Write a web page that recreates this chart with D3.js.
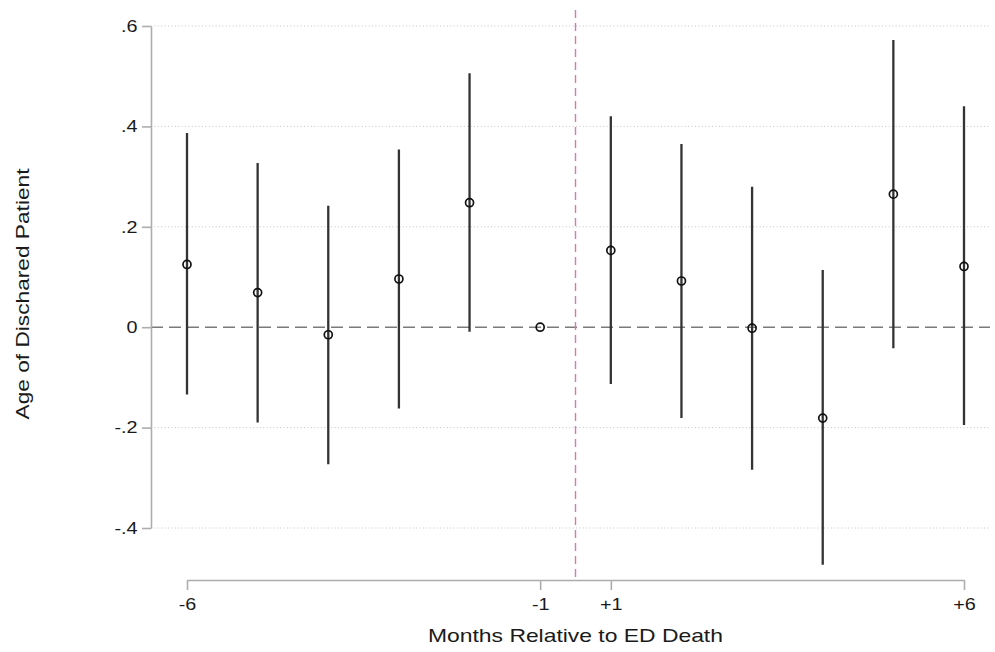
<!DOCTYPE html>
<html>
<head>
<meta charset="utf-8">
<script src="https://cdn.jsdelivr.net/npm/d3@7"></script>
<style>
  html, body { margin: 0; padding: 0; background: #fff; }
  svg { display: block; font-family: "Liberation Sans", Arial, Helvetica, sans-serif; }
</style>
</head>
<body>
<svg id="chart" width="995" height="652"></svg>
<script>
// Event-study estimates: months relative to the ED death (month 0 omitted, -1 is the reference)
const months = ["-6", "-5", "-4", "-3", "-2", "-1", "+1", "+2", "+3", "+4", "+5", "+6"];
const estimate = [0.125, 0.069, -0.015, 0.096, 0.248, 0, 0.153, 0.092, -0.002, -0.181, 0.265, 0.121];
const ciLow  = [-0.134, -0.190, -0.273, -0.162, -0.009, null, -0.113, -0.181, -0.284, -0.473, -0.042, -0.195];
const ciHigh = [0.387, 0.327, 0.242, 0.354, 0.506, null, 0.420, 0.365, 0.280, 0.114, 0.572, 0.440];

const xTickValues = ["-6", "-1", "+1", "+6"];
const yTickValues = [-0.4, -0.2, 0, 0.2, 0.4, 0.6];
const yTickLabels = ["-.4", "-.2", "0", ".2", ".4", ".6"];
const gridValues = [-0.4, -0.2, 0.2, 0.4, 0.6];

const xTitle = "Months Relative to ED Death";
const yTitle = "Age of Dischared Patient";

const rows = months.map((m, i) => ({ month: m, est: estimate[i], lo: ciLow[i], hi: ciHigh[i] }));

const svg = d3.select("#chart");
const plotLeft = 151, plotRight = 990, plotTop = 10, axisY = 580;

const x = d3.scalePoint().domain(months).range([187, 964]).padding(0);
const y = d3.scaleLinear().domain([-0.4, 0.6]).range([528, 26]);

// stretch text along its own direction (the lettering is set wide)
function widen(sel, k) {
  sel.each(function () {
    const w = this.getComputedTextLength();
    d3.select(this).attr("textLength", w * k).attr("lengthAdjust", "spacingAndGlyphs");
  });
}

// dotted horizontal grid
svg.append("g")
  .selectAll("line")
  .data(gridValues)
  .join("line")
  .attr("x1", plotLeft).attr("x2", plotRight)
  .attr("y1", d => y(d)).attr("y2", d => y(d))
  .attr("stroke", "#c4c4c4")
  .attr("stroke-width", 1)
  .attr("stroke-dasharray", "1,2.4");

// dashed zero reference line
svg.append("line")
  .attr("x1", plotLeft).attr("x2", plotRight)
  .attr("y1", y(0)).attr("y2", y(0))
  .attr("stroke", "#7a7a7a")
  .attr("stroke-width", 1.4)
  .attr("stroke-dasharray", "12,6");

// event marker between -1 and +1
const eventX = (x("-1") + x("+1")) / 2;
svg.append("line")
  .attr("x1", eventX).attr("x2", eventX)
  .attr("y1", plotTop).attr("y2", axisY)
  .attr("stroke", "#d47ab2")
  .attr("stroke-width", 1.4)
  .attr("stroke-dasharray", "8,5");

// y axis
const yAxis = svg.append("g")
  .attr("transform", `translate(${plotLeft},0)`)
  .call(d3.axisLeft(y)
    .tickValues(yTickValues)
    .tickFormat((d, i) => yTickLabels[i])
    .tickSize(9)
    .tickSizeOuter(0)
    .tickPadding(4.5));
yAxis.select(".domain").attr("stroke", "#adadad").attr("stroke-width", 1.6);
yAxis.selectAll(".tick line").attr("stroke", "#adadad").attr("stroke-width", 1.6);
yAxis.selectAll(".tick text")
  .attr("fill", "#1a1a1a")
  .style("font-size", "16.5px")
  .style("font-family", "'Liberation Sans', Arial, sans-serif");
widen(yAxis.selectAll(".tick text"), 1.2);

// x axis
const xAxis = svg.append("g")
  .attr("transform", `translate(0,${axisY})`)
  .call(d3.axisBottom(x)
    .tickValues(xTickValues)
    .tickSize(10)
    .tickSizeOuter(0)
    .tickPadding(8));
xAxis.select(".domain").attr("stroke", "#adadad").attr("stroke-width", 1.6);
xAxis.selectAll(".tick line").attr("stroke", "#adadad").attr("stroke-width", 1.6);
xAxis.selectAll(".tick text")
  .attr("fill", "#1a1a1a")
  .style("font-size", "16.5px")
  .style("font-family", "'Liberation Sans', Arial, sans-serif");
widen(xAxis.selectAll(".tick text"), 1.2);

// confidence intervals
svg.append("g")
  .selectAll("line")
  .data(rows.filter(d => d.lo !== null))
  .join("line")
  .attr("x1", d => x(d.month)).attr("x2", d => x(d.month))
  .attr("y1", d => y(d.lo)).attr("y2", d => y(d.hi))
  .attr("stroke", "#333")
  .attr("stroke-width", 2.3);

// point estimates
svg.append("g")
  .selectAll("circle")
  .data(rows)
  .join("circle")
  .attr("cx", d => x(d.month))
  .attr("cy", d => y(d.est))
  .attr("r", 4)
  .attr("fill", "none")
  .attr("stroke", "#111")
  .attr("stroke-width", 1.7);

// axis titles
const xt = svg.append("text")
  .attr("x", 575.5).attr("y", 641.5)
  .attr("text-anchor", "middle")
  .attr("fill", "#1a1a1a")
  .style("font-size", "18.6px")
  .text(xTitle);
widen(xt, 1.23);

const yt = svg.append("text")
  .attr("transform", "translate(29,294) rotate(-90)")
  .attr("text-anchor", "middle")
  .attr("fill", "#1a1a1a")
  .style("font-size", "18.6px")
  .text(yTitle);
widen(yt, 1.22);
</script>
</body>
</html>
